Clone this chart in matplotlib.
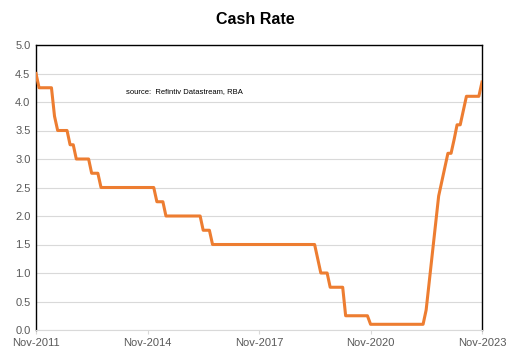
import pandas as pd
import matplotlib
matplotlib.use('Agg')
import matplotlib.pyplot as plt

plt.rcParams['font.family'] = ['Liberation Sans', 'DejaVu Sans']

# Month-end cash rate, Nov-2011 .. Nov-2023
rates = (
    [4.50, 4.25]                                   # 2011 Nov-Dec
    + [4.25] * 4 + [3.75] + [3.50] * 4 + [3.25] * 2 + [3.00]   # 2012
    + [3.00] * 4 + [2.75] * 3 + [2.50] * 5         # 2013
    + [2.50] * 12                                  # 2014
    + [2.50] + [2.25] * 3 + [2.00] * 8             # 2015
    + [2.00] * 4 + [1.75] * 3 + [1.50] * 5         # 2016
    + [1.50] * 12                                  # 2017
    + [1.50] * 12                                  # 2018
    + [1.50] * 5 + [1.25] + [1.00] * 3 + [0.75] * 3  # 2019
    + [0.75] * 2 + [0.25] * 8 + [0.10] * 2         # 2020
    + [0.10] * 12                                  # 2021
    + [0.10] * 4 + [0.35, 0.85, 1.35, 1.85, 2.35, 2.60, 2.85, 3.10]  # 2022
    + [3.10, 3.35, 3.60, 3.60, 3.85, 4.10, 4.10, 4.10, 4.10, 4.10, 4.35]  # 2023
)
dates = pd.date_range('2011-11-01', periods=len(rates), freq='MS')
tick_dates = pd.to_datetime(['2011-11-01', '2014-11-01', '2017-11-01', '2020-11-01', '2023-11-01'])
tick_labels = ['Nov-2011', 'Nov-2014', 'Nov-2017', 'Nov-2020', 'Nov-2023']
y_ticks = [0.0, 0.5, 1.0, 1.5, 2.0, 2.5, 3.0, 3.5, 4.0, 4.5, 5.0]

fig = plt.figure(figsize=(5.1, 3.6), dpi=100)
ax = fig.add_axes([36 / 510, 30 / 360, 446 / 510, 285 / 360])

ax.plot(dates, rates, color='#ED7D31', linewidth=2.2, solid_joinstyle='round', zorder=3)

ax.set_xlim(dates[0], dates[-1])
ax.set_ylim(0, 5)
ax.set_yticks(y_ticks)
ax.set_yticklabels([f'{v:.1f}' for v in y_ticks])
ax.set_xticks(tick_dates)
ax.set_xticklabels(tick_labels)

ax.grid(axis='y', color='#D9D9D9', linewidth=0.8)
ax.set_axisbelow(True)
for side in ['left', 'right', 'top']:
    ax.spines[side].set_color('black')
    ax.spines[side].set_linewidth(1.0)
ax.spines['bottom'].set_color('#D9D9D9')
ax.spines['bottom'].set_linewidth(0.8)
ax.tick_params(axis='y', length=0, labelsize=8, labelcolor='#595959', pad=4)
ax.tick_params(axis='x', length=3, color='#D9D9D9', labelsize=8, labelcolor='#595959', pad=3)

ax.text(0.202, 0.835, 'source:  Refintiv Datastream, RBA', transform=ax.transAxes,
        fontsize=5.5, color='black', va='center', ha='left')

fig.suptitle('Cash Rate', fontsize=11.5, fontweight='bold', y=0.966)

fig.savefig('out.png', dpi=100)
